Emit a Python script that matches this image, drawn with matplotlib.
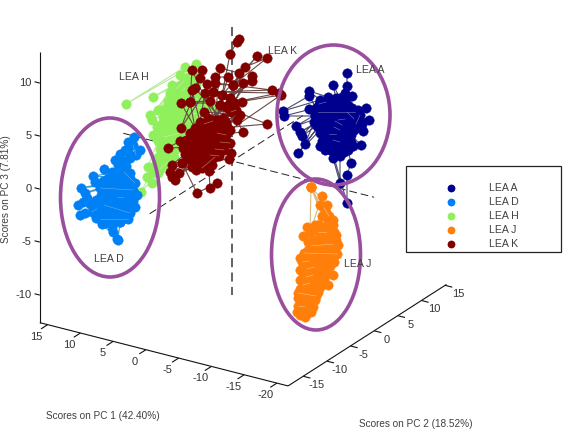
import matplotlib
matplotlib.use('Agg')
import matplotlib.pyplot as plt
from matplotlib.patches import Ellipse, Rectangle

plt.rcParams['font.family'] = ['Liberation Sans', 'DejaVu Sans']

# score clusters, in plot-plane coordinates, in acquisition order
lea_a = [(347,73),(347,86),(340,98),(333,85),(336,98),(352,96),(345,93),(328,97),(309,91),(320,100),(283,111),(309,96),
         (316,108),(323,106),(284,116),(315,116),(331,104),(338,103),(345,101),(352,108),(358,110),(366,108),(350,114),(369,120),
         (357,117),(360,121),(349,121),(363,131),(342,116),(309,109),(322,113),(329,111),(336,110),(343,109),(296,126),(315,115),
         (321,120),(300,132),(328,118),(302,136),(314,122),(305,144),(318,127),(298,153),(325,125),(332,124),(339,123),(346,127),
         (322,132),(329,131),(336,130),(343,133),(351,135),(361,145),(353,146),(324,138),(331,137),(338,138),(345,140),(351,142),
         (327,144),(334,143),(341,146),(320,146),(325,150),(335,150),(344,152),(333,158),(340,183),(340,156),(348,150),(351,163),
         (347,175),(347,203)]
lea_a_core = [(319,104),(326,102),(333,101),(340,99),(348,105),(355,112),(318,112),(325,110),(333,107),(340,113),(347,112),(354,119),
              (317,118),(325,116),(331,115),(338,120),(345,119),(352,125),(316,125),(323,123),(335,121),(342,125),(349,128),(320,133),
              (327,128),(334,127),(340,130),(347,134),(354,130),(322,141),(329,134),(336,134),(343,137),(349,138),(326,147),(333,140),
              (340,142),(347,146),(330,150),(338,147),(356,124),(360,115),(362,124)]
lea_d = [(134,137),(128,142),(125,150),(130,158),(140,150),(122,160),(120,154),(118,165),(126,166),(112,172),(104,169),(119,172),
         (93,176),(127,178),(95,182),(112,179),(130,173),(120,180),(81,188),(108,185),(85,193),(115,186),(123,186),(129,185),
         (106,192),(113,193),(120,193),(127,193),(78,205),(105,199),(83,202),(112,200),(119,200),(126,200),(133,201),(100,203),
         (93,207),(108,206),(80,215),(115,207),(85,213),(122,207),(128,208),(98,213),(103,212),(110,213),(117,214),(124,214),
         (125,218),(108,219),(114,221),(120,222),(102,224),(117,239),(113,232),(112,227),(118,240),(120,222)]
lea_d_core = [(133,145),(136,155),(128,152),(115,160),(130,178),(135,183),(124,172),(116,176),(108,178),(103,181),(100,188),(133,190),
              (137,195),(101,195),(110,196),(117,197),(123,197),(131,197),(96,200),(135,207),(130,213),(104,205),(111,209),(119,209),
              (126,204),(97,209),(92,212),(106,216),(113,217),(121,217),(128,219),(100,219),(105,223),(96,218),(90,204),(87,198)]
lea_h = [(185,67),(126,104),(196,64),(180,75),(188,77),(153,97),(197,75),(172,85),(158,110),(180,85),(188,85),(196,85),
         (150,115),(170,93),(178,93),(186,93),(194,93),(202,95),(152,120),(168,101),(176,101),(184,101),(192,101),(200,103),
         (210,103),(157,127),(165,109),(173,109),(181,109),(189,109),(197,111),(205,110),(213,108),(153,135),(163,117),(171,117),
         (179,117),(187,117),(195,118),(160,125),(168,125),(176,125),(184,125),(192,125),(162,133),(170,133),(178,133),(186,133),
         (148,167),(158,141),(166,141),(174,141),(182,141),(147,177),(160,149),(168,149),(176,149),(152,183),(158,157),(166,157),
         (174,157),(141,192),(155,165),(163,165),(171,163),(158,173)]
lea_h_core = [(176,89),(184,81),(192,80),(174,97),(182,97),(190,97),(198,99),(169,105),(177,105),(185,105),(193,106),(201,108),
              (167,113),(175,113),(183,113),(191,113),(199,114),(164,121),(172,121),(180,121),(188,121),(196,122),(166,129),(174,129),
              (182,129),(190,130),(164,137),(172,137),(180,137),(162,145),(170,145),(178,145),(164,153),(172,153),(161,161),(169,161),
              (160,169),(153,172)]
lea_j = [(311,187),(310,232),(322,196),(320,205),(311,187),(327,205),(315,225),(326,212),(322,216),(311,187),(328,222),(333,220),
         (331,228),(325,228),(307,227),(319,225),(334,232),(328,236),(321,238),(303,236),(313,240),(336,240),(330,244),(323,246),
         (308,242),(316,248),(308,250),(335,249),(329,252),(322,254),(315,256),(300,258),(307,258),(333,258),(326,260),(319,262),
         (311,264),(304,266),(330,266),(323,268),(316,270),(333,275),(309,272),(303,274),(326,274),(328,285),(319,277),(312,279),
         (305,281),(322,283),(315,285),(308,287),(300,289),(318,292),(311,294),(304,296),(298,298),(315,300),(308,302),(301,304),
         (297,312),(313,307),(300,315),(306,309),(305,317),(311,312),(303,311)]
lea_j_core = [(324,208),(329,216),(333,225),(336,235),(338,245),(326,232),(318,232),(331,238),(325,241),(319,244),(311,246),(333,244),
              (327,248),(320,250),(312,252),(304,253),(337,254),(331,256),(324,257),(317,259),(309,261),(302,262),(334,262),(328,263),
              (321,265),(314,267),(307,269),(300,270),(327,270),(320,273),(313,275),(306,277),(300,280),(324,279),(317,281),(310,283),
              (303,285),(320,287),(312,290),(305,292),(298,293),(316,296),(309,298),(302,300),(311,303),(304,306),(298,306),(307,313),
              (300,310)]
lea_k = [(239,39),(237,42),(230,54),(222,95),(257,56),(233,85),(267,58),(245,67),(228,105),(239,73),(220,68),(215,120),
         (192,70),(190,102),(202,70),(200,78),(181,128),(215,77),(228,77),(211,135),(252,76),(230,98),(252,81),(243,83),
         (226,122),(233,85),(207,84),(215,83),(272,90),(213,92),(279,93),(220,105),(281,95),(230,130),(195,88),(192,90),
         (200,122),(205,93),(213,92),(222,95),(225,140),(230,98),(242,102),(208,118),(235,103),(181,103),(195,128),(190,102),
         (210,101),(218,120),(220,105),(227,108),(267,124),(222,128),(204,112),(240,115),(212,125),(237,120),(243,132),(222,134),
         (204,128),(213,131),(190,133),(198,134),(207,136),(216,138),(224,147),(186,140),(195,141),(204,143),(213,145),(221,146),
         (168,148),(180,141),(190,148),(199,149),(208,151),(217,152),(231,153),(185,154),(172,165),(194,155),(182,163),(170,172),
         (203,157),(179,173),(212,158),(172,177),(175,180),(192,161),(229,159),(200,163),(208,164),(197,167),(196,170),(211,160),
         (209,171),(210,188),(217,183),(197,193),(182,163)]
lea_k_core = [(213,121),(204,124),(218,125),(227,126),(208,131),(217,133),(226,135),(193,137),(202,139),(211,141),(220,142),(230,143),
              (188,144),(197,145),(206,147),(215,149),(224,150),(183,148),(192,152),(201,153),(210,155),(219,156),(188,158),(197,159),
              (206,160),(215,157),(202,168),(192,167),(212,165),(223,118),(231,112),(236,110)]

series_names = ['LEA A', 'LEA D', 'LEA H', 'LEA J', 'LEA K']
series_colors = ['#00008f', '#0080f5', '#8ff05c', '#ff7f0a', '#800000']
line_colors = ['#4a4a70', '#3f9bc8', '#b8e89a', '#d8b880', '#6a4a48']
fleck_colors = ['#7c7cb8', '#5fb0f5', '#c8f0a8', '#f4c488', '#c08a60']

pc1_ticks = [15, 10, 5, 0, -5, -10, -15, -20]
pc2_ticks = [-15, -10, -5, 0, 5, 10, 15]
pc3_ticks = [-10, -5, 0, 5, 10]
PC1_MIN, PC1_MAX = -21.7, 16.2
PC2_MIN, PC2_MAX = -18.2, 15.3
PC3_MIN, PC3_MAX = -12.6, 12.9


def project(pc1, pc2, pc3):
    # fixed orthographic view of the score space
    return 232 - 6.55 * pc1 + 4.73 * pc2, 161 - 1.67 * pc1 - 3.03 * pc2 - 10.6 * pc3


def seg(ax, a, b, **kw):
    p = project(*a)
    q = project(*b)
    ax.plot([p[0], q[0]], [p[1], q[1]], solid_capstyle='butt', **kw)


fig = plt.figure(figsize=(5.67, 4.36), dpi=100)
ax = fig.add_axes([0, 0, 1, 1])
ax.set_xlim(0, 567)
ax.set_ylim(436, 0)
ax.axis('off')

# box edges of the 3d axes
edge = dict(color='#111111', lw=0.8, zorder=1)
seg(ax, (PC1_MAX, PC2_MIN, PC3_MIN), (PC1_MAX, PC2_MIN, PC3_MAX), **edge)
seg(ax, (PC1_MAX, PC2_MIN, PC3_MIN), (PC1_MIN, PC2_MIN, PC3_MIN), **edge)
seg(ax, (PC1_MIN, PC2_MIN, PC3_MIN), (PC1_MIN, PC2_MAX, PC3_MIN), **edge)

tick_text = dict(fontsize=8, color='#333333', ha='center', va='center')
for v in pc1_ticks:
    seg(ax, (v, PC2_MIN, PC3_MIN), (v, PC2_MIN - 1.4, PC3_MIN), **edge)
    x, y = project(v, PC2_MIN, PC3_MIN)
    ax.text(x - 11, y + 12, str(v), **tick_text)
for v in pc2_ticks:
    seg(ax, (PC1_MIN, v, PC3_MIN), (PC1_MIN - 1.1, v, PC3_MIN), **edge)
    x, y = project(PC1_MIN, v, PC3_MIN)
    ax.text(x + 13, y + 9, str(v), **tick_text)
for v in pc3_ticks:
    seg(ax, (PC1_MAX, PC2_MIN, v), (PC1_MAX + 0.8, PC2_MIN, v), **edge)
    x, y = project(PC1_MAX, PC2_MIN, v)
    ax.text(x - 8, y, str(v), fontsize=8, color='#333333', ha='right', va='center')

# dashed axes through the origin
p0, p1 = project(0, 0, 12.65), project(0, 0, PC3_MIN)
ax.plot([p0[0], p1[0]], [p0[1], p1[1]], color='#555555', lw=1.3, dashes=(5, 3), zorder=1)
p0, p1 = project(PC1_MAX + 0.4, 0, 0), project(PC1_MIN, 0, 0)
ax.plot([p0[0], p1[0]], [p0[1], p1[1]], color='#222222', lw=0.7, dashes=(8, 4), zorder=1)
p0, p1 = project(0, -17.4, 0), project(0, 15, 0)
ax.plot([p0[0], p1[0]], [p0[1], p1[1]], color='#222222', lw=0.7, dashes=(8, 4), zorder=1)

# score clusters with the path between consecutive samples
clusters = [(lea_h, lea_h_core, 2), (lea_d, lea_d_core, 1), (lea_a, lea_a_core, 0),
            (lea_j, lea_j_core, 3), (lea_k, lea_k_core, 4)]
for n, (pts, core, i) in enumerate(clusters):
    xs = [p[0] for p in pts + core]
    ys = [p[1] for p in pts + core]
    ax.plot(xs, ys, color=line_colors[i], lw=0.8, zorder=2 + 0.1 * n)
    ax.plot(xs, ys, ls='none', marker='o', ms=6.8, mfc=series_colors[i], mec=series_colors[i], mew=0.3, zorder=2.03 + 0.1 * n)
    # a few path segments still show over the dense part of each cluster
    for k in range(0, len(core) - 1, 5):
        ax.plot([core[k][0], core[k + 1][0]], [core[k][1], core[k + 1][1]], color=fleck_colors[i], lw=0.4, zorder=2.06 + 0.1 * n)

# hand-drawn rings round the separated groups
ring = dict(fill=False, ec='#9a4f9e', lw=2.6, zorder=4)
ax.add_patch(Ellipse((333.5, 115), 113, 140, **ring))
ax.add_patch(Ellipse((110, 197.5), 99, 159, **ring))
ax.add_patch(Ellipse((316, 254.5), 89, 151, **ring))

label_text = dict(fontsize=7.6, color='#404040', ha='center', va='center', zorder=5)
ax.text(133.5, 77, 'LEA H', **label_text)
ax.text(283, 51, 'LEA K', **label_text)
ax.text(370, 70, 'LEA A', **label_text)
ax.text(109, 259, 'LEA D', **label_text)
ax.text(357.5, 264, 'LEA J', **label_text)

# legend box
ax.add_patch(Rectangle((406, 166), 155, 86, fc='white', ec='#222222', lw=0.9, zorder=5))
legend_y = [188, 202, 216, 230, 243.5]
for name, col, y in zip(series_names, series_colors, legend_y):
    ax.plot([450.5], [y], ls='none', marker='o', ms=4.6, mfc=col, mec=col, zorder=6)
    ax.text(489, y, name, fontsize=7.6, color='#404040', ha='left', va='center', zorder=6)

ax.text(46, 416, 'Scores on PC 1 (42.40%)', fontsize=7.2, color='#404040', ha='left', va='center')
ax.text(359, 424, 'Scores on PC 2 (18.52%)', fontsize=7.2, color='#404040', ha='left', va='center')
ax.text(6, 189, 'Scores on PC 3 (7.81%)', fontsize=7.2, color='#404040', ha='center', va='center', rotation=90)

fig.savefig('out.png', dpi=100)
